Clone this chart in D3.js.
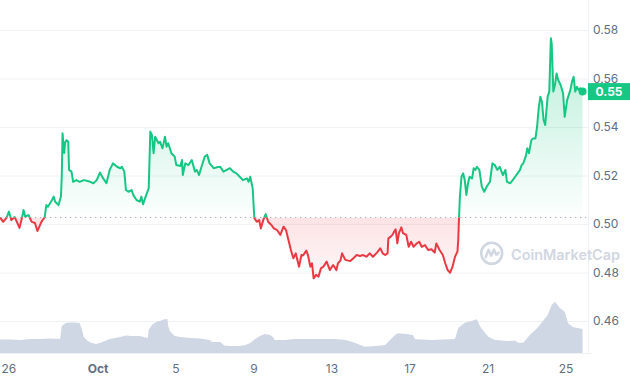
<!DOCTYPE html>
<html><head><meta charset="utf-8">
<script src="https://cdn.jsdelivr.net/npm/d3@7"></script>
<style>
body{margin:0;background:#fff}
svg{display:block;font-family:Inter,"Noto Sans",sans-serif}
</style>
</head><body>
<svg id="c" width="630" height="380"></svg>
<script>
// ---------- DATA ----------
const startDate = new Date(2023, 8, 26, 0, 0);
// hours since Sep 26 00:00
const priceHours = [0,4,8,11,14,18,24,27,29,31,35,39,43,46,51,55,57,59,64,66,68,72,75,76,77,79,80,82,84,85,88,90,94,98,103,107,111,115,119,123,127,
131,135,139,144,148,150,153,155,158,162,164,168,172,174,176,180,183,184,185,187,189,191,195,197,200,203,205,207,211,215,217,222,224,225,228,232,236,240,242,245,
248,252,255,258,263,267,271,275,279,283,287,291,295,299,304,306,308,311,313,316,319,321,324,327,330,334,337,341,345,349,352,355,358,361,364,368,371,
373,377,379,382,384,386,389,392,395,398,402,406,410,414,416,419,421,425,431,435,439,443,447,451,455,459,464,468,471,474,477,478,481,483,485,487,489,491,494,496,500,503,506,509,513,516,519,523,527,531,535,537,541,545,548,551,554,557,560,563,564,565,
566,568,570,572,574,576,578,581,583,585,587,590,593,596,599,603,606,609,612,615,619,622,624,628,631,634,637,640,642,644,647,649,651,654,656,659,661,663,665,667,669,671,674,676,678,679,681,683,685,687,690,693,695,698,702,704,706,708,710,712,714,717];
const prices = [0.5027,0.5009,0.5025,0.5051,0.5016,0.5029,0.4984,0.5025,0.5058,0.5030,0.5037,0.5009,0.5004,0.4971,0.5009,0.5028,0.5078,0.5071,0.5099,0.5113,0.5092,0.5078,0.5113,0.5195,0.5374,0.5293,0.5334,0.5346,0.5339,0.5223,0.5216,0.5174,0.5181,0.5174,0.5181,0.5178,0.5174,0.5168,0.5181,0.5212,0.5188,
0.5168,0.5223,0.5250,0.5236,0.5230,0.5236,0.5216,0.5140,0.5133,0.5140,0.5120,0.5099,0.5092,0.5113,0.5081,0.5120,0.5147,0.5264,0.5381,0.5367,0.5292,0.5360,0.5333,0.5339,0.5312,0.5360,0.5319,0.5333,0.5292,0.5278,0.5243,0.5239,0.5264,0.5202,0.5250,0.5243,0.5264,0.5216,0.5223,0.5202,
0.5236,0.5278,0.5285,0.5250,0.5230,0.5234,0.5236,0.5216,0.5223,0.5230,0.5216,0.5209,0.5195,0.5181,0.5188,0.5174,0.5195,0.5147,0.5024,0.5009,0.5016,0.4982,0.5016,0.5041,0.5009,0.4996,0.4982,0.4975,0.4955,0.4989,0.4975,0.4934,0.4893,0.4859,0.4879,0.4824,0.4872,
0.4870,0.4890,0.4872,0.4824,0.4838,0.4776,0.4790,0.4783,0.4817,0.4824,0.4845,0.4810,0.4831,0.4810,0.4838,0.4849,0.4879,0.4852,0.4847,0.4859,0.4872,0.4868,0.4872,0.4865,0.4879,0.4865,0.4882,0.4900,0.4879,0.4872,0.4879,0.4941,0.4948,0.4955,0.4968,0.4978,0.4920,0.4962,0.4986,0.4962,0.4955,0.4906,0.4927,0.4906,0.4920,0.4927,0.4906,0.4913,0.4893,0.4896,0.4882,0.4920,0.4893,0.4872,0.4838,0.4810,0.4799,0.4824,0.4865,0.4886,0.4934,0.5030,
0.5113,0.5195,0.5209,0.5181,0.5120,0.5168,0.5195,0.5188,0.5230,0.5223,0.5236,0.5223,0.5154,0.5133,0.5154,0.5174,0.5250,0.5243,0.5223,0.5236,0.5202,0.5223,0.5174,0.5168,0.5181,0.5195,0.5209,0.5223,0.5243,0.5250,0.5278,0.5312,0.5292,0.5346,0.5353,0.5353,0.5401,0.5477,0.5525,0.5504,0.5429,0.5408,0.5525,0.5546,0.5766,0.5745,0.5546,0.5573,0.5621,0.5594,0.5573,0.5539,0.5442,0.5511,0.5553,0.5587,0.5607,0.5546,0.5566,0.5553,0.5560,0.5546];
// volume (millions USD), hours since Sep 26 00:00
const volumeHours = [0,12,25,37,49,62,74,76,81,86,92,98,101,103,108,113,118,123,129,135,142,148,155,162,172,182,183,187,192,197,201,206,207,209,215,222,234,246,258,261,271,276,283,295,302,308,314,320,326,332,336,338,351,363,375,388,400,412,425,433,449,462,474,484,489,500,508,511,532,560,564,572,580,587,591,601,609,625,634,638,644,652,661,671,674,679,683,689,695,699,705,717];
const volumes = [54,54,52,56,56,58,56,108,120,122,122,120,92,64,48,40,36,40,48,56,60,64,70,68,68,60,92,112,124,128,134,136,108,88,68,64,60,58,52,44,44,30,28,28,32,40,56,68,76,72,64,52,52,56,56,56,56,56,52,45,25,28,32,65,79,76,72,55,52,56,100,121,128,135,105,65,52,48,49,41,41,72,99,139,152,192,205,180,165,120,104,96];
const yTicks = [0.46,0.48,0.50,0.52,0.54,0.56,0.58];
const xTickDates = ["2023-09-26","2023-10-01","2023-10-05","2023-10-09","2023-10-13","2023-10-17","2023-10-21","2023-10-25"];
const xTickLabels = ["26","Oct","5","9","13","17","21","25"];
const lastPriceLabel = "0.55";
const watermarkText = "CoinMarketCap";

// ---------- SETUP ----------
const svg = d3.select("#c");
const GREEN = "#16c784", RED = "#ea3943";
const plotRight = 588, volBase = 353;

const x = d3.scaleTime().domain([startDate, d3.timeDay.offset(startDate, 30)]).range([0, 585]);
const y = d3.scaleLinear().domain([0.46, 0.58]).range([321, 30]);
const vy = d3.scaleLinear().domain([0, 240]).range([volBase, 293]);

const toDate = h => new Date(+startDate + h * 3600000);
const data = priceHours.map((h, i) => ({t: toDate(h), p: prices[i]}));
const vdata = volumeHours.map((h, i) => ({t: toDate(h), v: volumes[i]}));
const baseVal = prices[0];
const baseY = y(baseVal);

// defs
const defs = svg.append("defs");
const gg = defs.append("linearGradient").attr("id", "gGreen").attr("gradientUnits", "userSpaceOnUse")
  .attr("x1", 0).attr("x2", 0).attr("y1", 30).attr("y2", baseY);
gg.append("stop").attr("offset", 0).attr("stop-color", GREEN).attr("stop-opacity", 0.32);
gg.append("stop").attr("offset", 1).attr("stop-color", GREEN).attr("stop-opacity", 0.01);
const gr = defs.append("linearGradient").attr("id", "gRed").attr("gradientUnits", "userSpaceOnUse")
  .attr("x1", 0).attr("x2", 0).attr("y1", baseY).attr("y2", 285);
gr.append("stop").attr("offset", 0).attr("stop-color", RED).attr("stop-opacity", 0.14);
gr.append("stop").attr("offset", 1).attr("stop-color", RED).attr("stop-opacity", 0.03);
defs.append("clipPath").attr("id", "cAbove").append("rect").attr("x", -5).attr("y", 0).attr("width", 600).attr("height", baseY);
defs.append("clipPath").attr("id", "cBelow").append("rect").attr("x", -5).attr("y", baseY).attr("width", 600).attr("height", 380 - baseY);

// grid
svg.append("g").attr("transform", `translate(${plotRight},0)`)
  .call(d3.axisLeft(y).tickValues(yTicks).tickSize(plotRight).tickFormat(""))
  .call(g => g.select(".domain").remove())
  .call(g => g.selectAll("line").attr("stroke", "#eff2f5").attr("stroke-width", 1));
svg.append("line").attr("x1", plotRight + 0.5).attr("x2", plotRight + 0.5).attr("y1", 0).attr("y2", volBase + 2)
  .attr("stroke", "#eff2f5");
svg.append("line").attr("x1", 0).attr("x2", plotRight + 4).attr("y1", volBase + 0.5).attr("y2", volBase + 0.5)
  .attr("stroke", "#eff2f5");

// volume
svg.append("path").datum(vdata)
  .attr("d", d3.area().x(d => x(d.t)).y0(volBase).y1(d => vy(d.v)))
  .attr("fill", "#cfd6e4");

// baseline dotted
svg.append("line").attr("x1", 0).attr("x2", plotRight).attr("y1", baseY).attr("y2", baseY)
  .attr("stroke", "#a6b0c3").attr("stroke-width", 1).attr("stroke-dasharray", "1.3,3.7");

// watermark
const wm = svg.append("g").attr("opacity", 0.9);
wm.append("circle").attr("cx", 491.7).attr("cy", 253.3).attr("r", 10.5)
  .attr("fill", "none").attr("stroke", "#cdd3de").attr("stroke-width", 2.6);
wm.append("path").attr("transform", "translate(491.7,253.3)")
  .attr("d", "M-6,4 L-3.2,-3.5 L-0.5,2.5 L2.2,-3.8 L4.5,1.5 L7,-0.5")
  .attr("fill", "none").attr("stroke", "#cdd3de").attr("stroke-width", 2.4)
  .attr("stroke-linecap", "round").attr("stroke-linejoin", "round");
wm.append("text").attr("x", 511).attr("y", 259.5).text(watermarkText)
  .attr("font-size", 14.5).attr("font-weight", 600).attr("fill", "#cdd3de")
  .attr("textLength", 109).attr("lengthAdjust", "spacingAndGlyphs");

// price areas
const area = d3.area().x(d => x(d.t)).y0(baseY).y1(d => y(d.p));
svg.append("path").datum(data).attr("d", area).attr("fill", "url(#gGreen)").attr("clip-path", "url(#cAbove)");
svg.append("path").datum(data).attr("d", area).attr("fill", "url(#gRed)").attr("clip-path", "url(#cBelow)");

// price lines
const line = d3.line().x(d => x(d.t)).y(d => y(d.p));
svg.append("path").datum(data).attr("d", line).attr("fill", "none").attr("stroke", GREEN)
  .attr("stroke-width", 2).attr("stroke-linejoin", "round").attr("clip-path", "url(#cAbove)");
svg.append("path").datum(data).attr("d", line).attr("fill", "none").attr("stroke", RED)
  .attr("stroke-width", 2).attr("stroke-linejoin", "round").attr("clip-path", "url(#cBelow)");

// end dot
const last = data[data.length - 1];
svg.append("circle").attr("cx", x(last.t)).attr("cy", y(last.p)).attr("r", 4).attr("fill", GREEN);

// y axis
svg.append("g").attr("transform", "translate(593,0)")
  .call(d3.axisRight(y).tickValues(yTicks).tickSize(0).tickPadding(0).tickFormat(d3.format(".2f")))
  .call(g => g.select(".domain").remove())
  .call(g => g.selectAll("text").attr("fill", "#616e85").attr("font-size", 12).attr("font-family", "Inter,'Noto Sans',sans-serif"));

// x axis
const parseD = d3.timeParse("%Y-%m-%d");
const xDates = xTickDates.map(parseD);
svg.append("g").attr("transform", `translate(0,${volBase + 2})`)
  .call(d3.axisBottom(x).tickValues(xDates).tickSize(0).tickPadding(9)
    .tickFormat((d, i) => xTickLabels[i]))
  .call(g => g.select(".domain").remove())
  .call(g => g.selectAll("text").attr("fill", "#616e85").attr("font-size", 12).attr("font-family", "Inter,'Noto Sans',sans-serif")
    .attr("font-weight", (d, i) => xTickLabels[i] === "Oct" ? 700 : 400))
  .call(g => g.select(".tick text").attr("text-anchor", "start").attr("x", 1));

// last price tag
const ly = y(last.p);
svg.append("rect").attr("x", 588).attr("y", ly - 8.5).attr("width", 42).attr("height", 17).attr("fill", GREEN);
svg.append("text").attr("x", 609).attr("y", ly).attr("dy", "0.36em").attr("text-anchor", "middle")
  .attr("fill", "#fff").attr("font-size", 12).attr("font-weight", 700).text(lastPriceLabel);
</script>
</body></html>
